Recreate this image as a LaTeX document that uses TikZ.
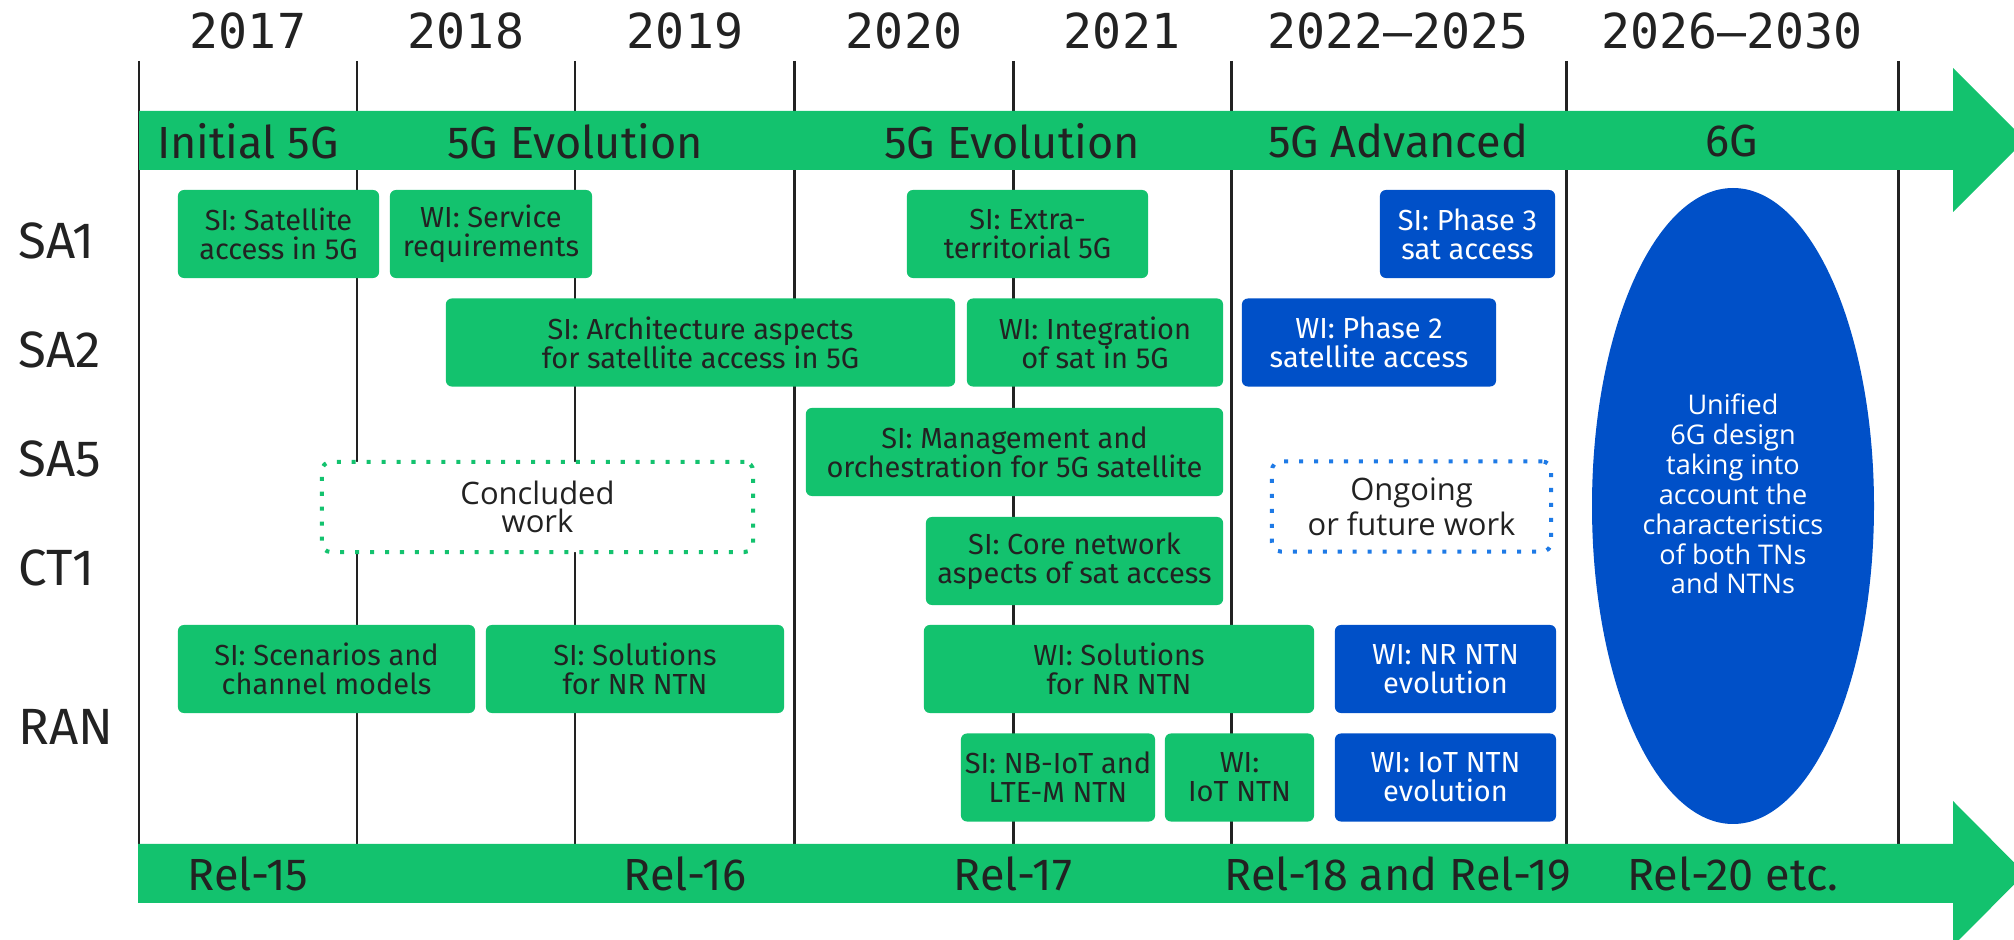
\documentclass[tikz,border=0pt]{standalone}
\usepackage{fontspec}
\setmainfont{Fira Sans}
\newfontfamily\yearfont{DejaVu Sans Mono}
\newfontfamily\notefont{Open Sans}
\usepackage{tikz}

\definecolor{EriGreen}{RGB}{19,194,110}
\definecolor{EriBlue}{RGB}{0,80,200}
\definecolor{NoteBlue}{RGB}{30,122,230}
\definecolor{InkGray}{RGB}{34,34,34}

\begin{document}
\begin{tikzpicture}[x=0.01cm, y=-0.01cm,
	yearlbl/.style={font=\yearfont\fontsize{13.7}{16}\selectfont, text=InkGray},
	phase/.style={font=\fontsize{12.8}{15}\selectfont, text=InkGray},
	wglbl/.style={font=\fontsize{14.5}{17}\selectfont, text=InkGray, anchor=west, inner sep=0},
	task/.style={rounded corners=1.7pt, inner sep=0, minimum height=0.88cm, align=center, font=\fontsize{8.25}{8.25}\selectfont},
	gbox/.style={task, fill=EriGreen, text=InkGray},
	bbox/.style={task, fill=EriBlue, text=white},
	notebox/.style={rounded corners=2.5pt, fill=white, line width=1.15pt, dash pattern=on 1.15pt off 3.1pt, minimum height=0.9cm, align=center, font=\notefont\fontsize{8.8}{8}\selectfont, text=InkGray}]
	\useasboundingbox (0,0) rectangle (2014,940);

	% year grid
	\foreach \x in {139,357,575,794,1013,1231,1566,1898}
		\draw[line width=0.85pt, InkGray] (\x,61) -- (\x,844);

	\node[yearlbl] (y2017) at (248,31) {2017};
	\node[yearlbl] (y2018) at (466,31) {2018};
	\node[yearlbl] (y2019) at (685,31) {2019};
	\node[yearlbl] (y2020) at (904,31) {2020};
	\node[yearlbl] (y2021) at (1122,31) {2021};
	\node[yearlbl] (y2022) at (1398,31) {2022–2025};
	\node[yearlbl] (y2026) at (1732,31) {2026–2030};

	% generation and release arrows
	\fill[EriGreen] (139,111) -- (1953,111) -- (1953,68) -- (2025,140) -- (1953,212) -- (1953,170) -- (139,170) -- cycle;
	\fill[EriGreen] (138,844) -- (1953,844) -- (1953,801) -- (2025,873.5) -- (1953,946) -- (1953,903) -- (138,903) -- cycle;

	\node[phase] (phInit) at (248,141) {Initial 5G};
	\node[phase] (phEvoA) at (575,141) {5G Evolution};
	\node[phase] (phEvoB) at (1012,141) {5G Evolution};
	\node[phase] (phAdv) at (1398,141) {5G Advanced};
	\node[phase] (phSix) at (1732,141) {6G};

	\node[phase] (rel15) at (248,874) {Rel-15};
	\node[phase] (rel16) at (685,874) {Rel-16};
	\node[phase] (rel17) at (1013,874) {Rel-17};
	\node[phase] (rel1819) at (1398,874) {Rel-18 and Rel-19};
	\node[phase] (rel20) at (1733,874) {Rel-20 etc.};

	% working groups
	\node[wglbl] (sa1) at (18,241) {SA1};
	\node[wglbl] (sa2) at (18,350) {SA2};
	\node[wglbl] (sa5) at (18,459) {SA5};
	\node[wglbl] (ct1) at (18,568) {CT1};
	\node[wglbl] (ran) at (18,727) {RAN};

	% SA1
	\node[gbox, minimum width=2.01cm] (sa1sat) at (278.5,234) {SI: Satellite\\access in 5G};
	\node[gbox, minimum width=2.02cm] (sa1req) at (491,234) {WI: Service\\requirements};
	\node[gbox, minimum width=2.41cm] (sa1ext) at (1027.5,234) {SI: Extra-\\territorial 5G};
	\node[bbox, minimum width=1.75cm] (sa1ph3) at (1467.5,234) {SI: Phase 3\\sat access};
	% SA2
	\node[gbox, minimum width=5.09cm] (sa2arch) at (700.5,342.5) {SI: Architecture aspects\\for satellite access in 5G};
	\node[gbox, minimum width=2.56cm] (sa2int) at (1095,342.5) {WI: Integration\\of sat in 5G};
	\node[bbox, minimum width=2.54cm] (sa2ph2) at (1369,342.5) {WI: Phase 2\\satellite access};
	% SA5 and CT1
	\node[gbox, minimum width=4.17cm] (sa5man) at (1014.5,452) {SI: Management and\\orchestration for 5G satellite};
	\node[gbox, minimum width=2.97cm] (ct1core) at (1074.5,561) {SI: Core network\\aspects of sat access};
	% RAN
	\node[gbox, minimum width=2.97cm] (ranscen) at (326.5,669) {SI: Scenarios and\\channel models};
	\node[gbox, minimum width=2.98cm] (ransol) at (635,669) {SI: Solutions\\for NR NTN};
	\node[gbox, minimum width=3.90cm] (ranwisol) at (1119,669) {WI: Solutions\\for NR NTN};
	\node[bbox, minimum width=2.21cm] (rannrev) at (1445.5,669) {WI: NR NTN\\evolution};
	\node[gbox, minimum width=1.94cm] (raniotsi) at (1058,777.5) {SI: NB-IoT and\\LTE-M NTN};
	\node[gbox, minimum width=1.49cm] (raniotwi) at (1239.5,777.5) {WI:\\IoT NTN};
	\node[bbox, minimum width=2.21cm] (raniotev) at (1445.5,777.5) {WI: IoT NTN\\evolution};

	% legend
	\node[notebox, draw=EriGreen, minimum width=4.31cm] (concl) at (537.5,507) {Concluded\\work};
	\node[notebox, draw=NoteBlue, minimum width=2.79cm] (ongo) at (1411.5,506.5) {Ongoing\\or future work};

	% 6G
	\fill[EriBlue] (1733,506) ellipse [x radius=141, y radius=318];
	\node[align=center, text=white, font=\notefont\fontsize{7.7}{8.5}\selectfont] (sixg) at (1733,494) {Unified\\6G design\\taking into\\account the\\characteristics\\of both TNs\\and NTNs};
\end{tikzpicture}
\end{document}
